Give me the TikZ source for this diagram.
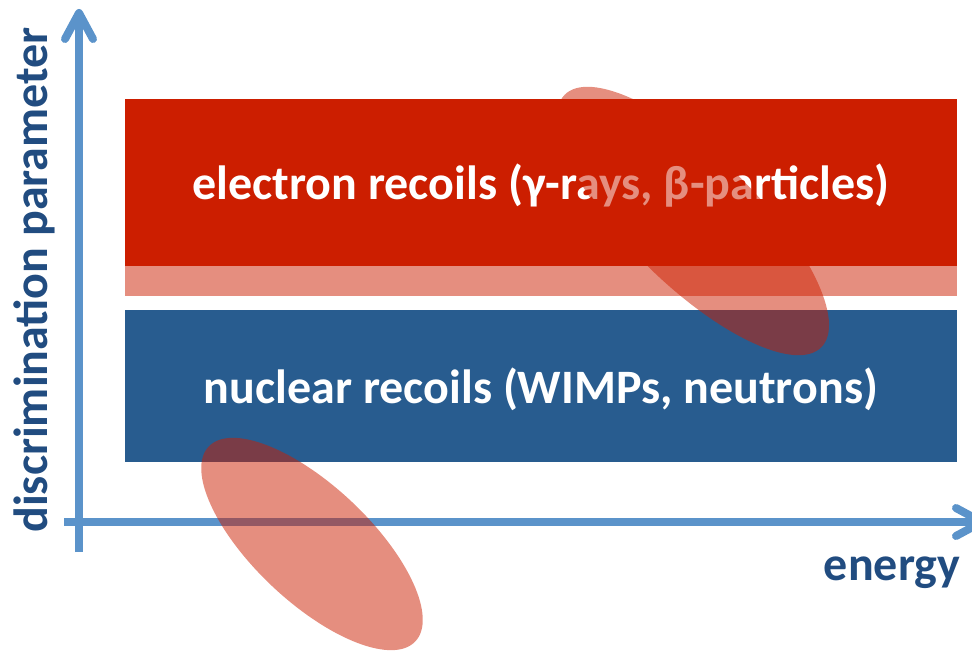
\documentclass[tikz,border=0pt]{standalone}
\usepackage{fontspec}
\setmainfont{Carlito}
\usetikzlibrary{shapes.geometric}
\definecolor{bandred}{HTML}{CC1E00}
\definecolor{bandblue}{HTML}{285C8F}
\definecolor{axisblue}{HTML}{5B93CA}
\definecolor{labelblue}{HTML}{214C80}
\tikzset{
  bandtext/.style={anchor=base, text=white, inner sep=0pt, font=\bfseries\fontsize{48}{48}\selectfont},
  axislabel/.style={anchor=base, text=labelblue, inner sep=0pt, font=\bfseries\fontsize{48}{48}\selectfont},
  axisline/.style={draw=axisblue, line width=8pt},
  axishead/.style={draw=axisblue, line width=8pt, line cap=round, line join=round},
  blob/.style={ellipse, fill=bandred, fill opacity=0.5, draw=none, inner sep=0pt}
}
\begin{document}
\begin{tikzpicture}[x=1pt,y=-1pt]
\useasboundingbox (0,0) rectangle (972,652);
\clip (0,0) rectangle (972,652);
% bands
\fill[bandred] (125,99) rectangle (957,266);
\fill[bandred, fill opacity=0.5] (125,266) rectangle (957,296);
\fill[bandblue] (125,310) rectangle (957,462);
\node[bandtext] (er) at (541,200) {electron recoils (γ-rays, β-particles)};
\node[bandtext] (nr) at (541,403) {nuclear recoils (WIMPs, neutrons)};
% axes
\coordinate (yb) at (79,552);
\coordinate (yt) at (79,13);
\coordinate (yl) at (65,39);
\coordinate (yr) at (93,39);
\coordinate (xl) at (64,522);
\coordinate (xt) at (982,522);
\coordinate (xu) at (956,508);
\coordinate (xd) at (956,536);
\draw[axisline] (yb) -- (yt);
\draw[axishead] (yl) -- (yt) -- (yr);
\draw[axisline] (xl) -- (xt);
\draw[axishead] (xu) -- (xt) -- (xd);
\node[axislabel, rotate=90] (dp) at (47,280) {discrimination parameter};
\node[axislabel] (en) at (892,580) {energy};
% populations
\node[blob, minimum width=360pt, minimum height=128pt, rotate=-44.5] (e1) at (693,221) {};
\node[blob, minimum width=284pt, minimum height=116pt, rotate=-43.3] (e2) at (312,544) {};
\end{tikzpicture}
\end{document}
